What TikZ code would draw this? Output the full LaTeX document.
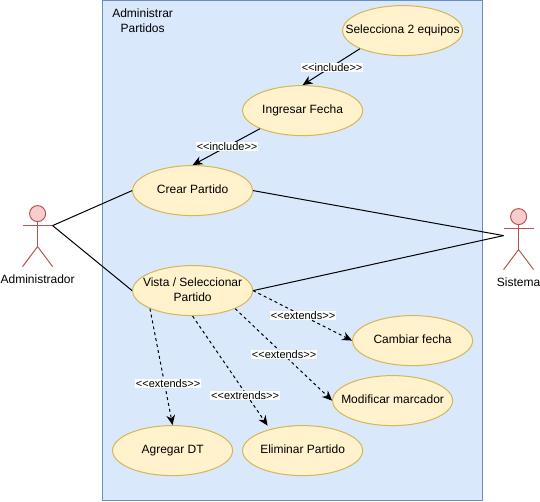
\documentclass[tikz,border=0pt]{standalone}
\usepackage{fontspec}
\setmainfont[Ligatures=TeXOff]{Liberation Sans}
\usetikzlibrary{shapes.geometric, arrows.meta}
\definecolor{panelfill}{HTML}{DAE8FC}
\definecolor{paneldraw}{HTML}{6C8EBF}
\definecolor{casefill}{HTML}{FFF2CC}
\definecolor{casedraw}{HTML}{D6B656}
\definecolor{actorfill}{HTML}{F8CECC}
\definecolor{actordraw}{HTML}{B85450}
\newcommand{\casetext}[1]{\makebox[0pt]{\begin{tabular}{@{}c@{}}#1\end{tabular}}}
\tikzset{
  usecase/.style={ellipse, draw=casedraw, fill=casefill, line width=0.75pt, minimum width=90pt, minimum height=37.5pt, inner sep=0pt, font=\fontsize{9}{11.25}\selectfont},
  actorline/.style={draw=actordraw, line width=0.75pt},
  plain/.style={inner sep=0pt, align=center, font=\fontsize{9}{11.25}\selectfont},
  assoc/.style={line width=0.75pt},
  relation/.style={line width=0.75pt, -{Stealth[length=7.5pt,width=6.5pt]}},
  extendline/.style={relation, dash pattern=on 2.25pt off 2.25pt},
  rellabel/.style={fill=white, inner sep=0.5pt, font=\fontsize{8.25}{10}\selectfont}
}
\begin{document}
\begin{tikzpicture}[x=0.75pt,y=-0.75pt]
\useasboundingbox (-0.6,-0.6) rectangle (539.4,500.4);
\draw [draw=paneldraw, fill=panelfill, line width=0.75pt] (102,0) rectangle (482,500);
\node [plain] (title) at (142,20.5) {Administrar\\Partidos};

% actors
\foreach \px/\py in {37/205,518/208} {
  \draw [actorline, fill=actorfill] (\px,\py+8) circle (6pt);
  \draw [actorline] (\px,\py+16) -- (\px,\py+41);
  \draw [actorline] (\px-15,\py+20) -- (\px+15,\py+20);
  \draw [actorline] (\px-15,\py+61) -- (\px,\py+41) -- (\px+15,\py+61);
}
\coordinate (admin) at (52,225);
\coordinate (sistema) at (503,235);
\node [plain] (adminlabel) at (37,279) {Administrador};
\node [plain] (sistemalabel) at (518,282) {Sistema};

% use cases
\node [usecase] (selecciona) at (402,30) {\casetext{Selecciona 2 equipos}};
\node [usecase] (ingresar) at (302,110) {\casetext{Ingresar Fecha}};
\node [usecase] (crear) at (192,190) {\casetext{Crear Partido}};
\node [usecase] (vista) at (192,290) {\casetext{Vista / Seleccionar\\Partido}};
\node [usecase] (cambiar) at (412,340) {\casetext{Cambiar fecha}};
\node [usecase] (modificar) at (392,400) {\casetext{Modificar marcador}};
\node [usecase] (agregar) at (172,450) {\casetext{Agregar DT}};
\node [usecase] (eliminar) at (302,450) {\casetext{Eliminar Partido}};
\coordinate (eliminartop) at (267,425);

% connectors
\draw [assoc] (admin) -- (crear.west);
\draw [assoc] (admin) -- (vista.west);
\draw [assoc] (crear.east) -- (sistema);
\draw [assoc] (vista.east) -- (sistema);
\draw [relation] (selecciona.203) -- (ingresar.north);
\draw [relation] (ingresar.203) -- (crear.north);
\draw [extendline] (vista.east) -- (cambiar.west);
\draw [extendline] (vista.337) -- (modificar.west);
\draw [extendline] (vista.south) -- (eliminartop);
\draw [extendline] (vista.203) -- (agregar.north);

% labels
\node [rellabel] (inclsel) at (331.5,67) {<<include>>};
\node [rellabel] (inclfecha) at (226.5,146) {<<include>>};
\node [rellabel] (extcambiar) at (302.5,315) {<<extends>>};
\node [rellabel] (extmodificar) at (283.5,354) {<<extends>>};
\node [rellabel] (extagregar) at (167.5,383) {<<extends>>};
\node [rellabel] (exteliminar) at (244.5,395) {<<extrends>>};
\end{tikzpicture}
\end{document}
